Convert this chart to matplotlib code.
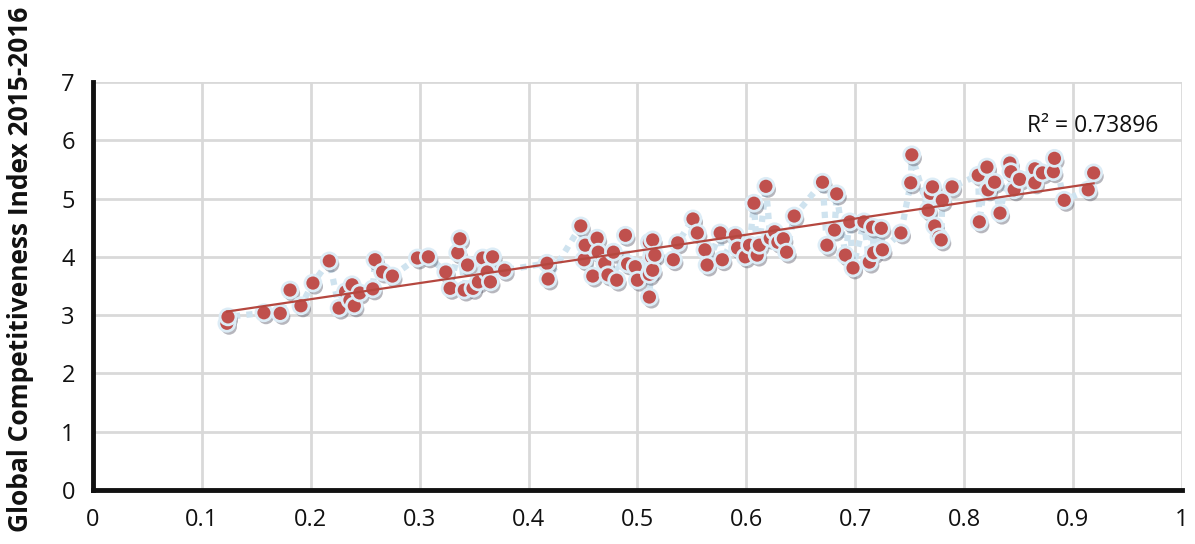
import numpy as np
import matplotlib
matplotlib.use("Agg")
import matplotlib.pyplot as plt
import matplotlib.patheffects as pe

# values (x, GCI score)
x_vals = [0.123, 0.124, 0.157, 0.172, 0.181, 0.191, 0.202, 0.217, 0.226, 0.232,
          0.236, 0.238, 0.240, 0.245, 0.257, 0.259, 0.266, 0.275, 0.298, 0.308,
          0.324, 0.328, 0.335, 0.337, 0.341, 0.344, 0.349, 0.354, 0.358, 0.362,
          0.365, 0.367, 0.378, 0.417, 0.418, 0.448, 0.451, 0.452, 0.459, 0.463,
          0.464, 0.470, 0.473, 0.478, 0.481, 0.489, 0.491, 0.498, 0.500, 0.511,
          0.511, 0.511, 0.513, 0.514, 0.514, 0.516, 0.533, 0.537, 0.551, 0.555,
          0.562, 0.564, 0.576, 0.578, 0.590, 0.592, 0.599, 0.603, 0.607, 0.610,
          0.612, 0.618, 0.622, 0.626, 0.629, 0.634, 0.637, 0.644, 0.670, 0.674,
          0.681, 0.683, 0.691, 0.695, 0.698, 0.708, 0.713, 0.716, 0.717, 0.724,
          0.725, 0.742, 0.751, 0.752, 0.767, 0.769, 0.771, 0.773, 0.777, 0.779,
          0.780, 0.789, 0.813, 0.814, 0.821, 0.822, 0.828, 0.833, 0.842, 0.843,
          0.846, 0.851, 0.865, 0.865, 0.872, 0.882, 0.883, 0.892, 0.914, 0.919]
y_vals = [2.86, 2.97, 3.04, 3.03, 3.43, 3.16, 3.55, 3.93, 3.12, 3.40,
          3.26, 3.52, 3.16, 3.38, 3.45, 3.95, 3.74, 3.67, 3.98, 4.00,
          3.74, 3.46, 4.07, 4.31, 3.43, 3.86, 3.46, 3.57, 3.98, 3.74,
          3.57, 4.00, 3.77, 3.89, 3.62, 4.53, 3.95, 4.20, 3.67, 4.32,
          4.08, 3.89, 3.69, 4.08, 3.60, 4.37, 3.88, 3.83, 3.60, 4.25,
          3.70, 3.31, 4.00, 4.29, 3.77, 4.03, 3.95, 4.24, 4.65, 4.41,
          4.12, 3.86, 4.41, 3.95, 4.37, 4.15, 4.00, 4.20, 4.92, 4.03,
          4.20, 5.21, 4.32, 4.43, 4.25, 4.31, 4.08, 4.70, 5.28, 4.20,
          4.46, 5.08, 4.03, 4.60, 3.81, 4.60, 3.91, 4.51, 4.07, 4.49,
          4.12, 4.41, 5.27, 5.75, 4.80, 5.09, 5.20, 4.53, 4.34, 4.29,
          4.97, 5.20, 5.40, 4.60, 5.54, 5.15, 5.28, 4.75, 5.61, 5.46,
          5.15, 5.33, 5.51, 5.27, 5.44, 5.46, 5.69, 4.97, 5.15, 5.44]
r2_label = "R² = 0.73896"
y_title = "Global Competitiveness Index 2015-2016"

x = np.array(x_vals)
y = np.array(y_vals)

plt.rcParams['font.family'] = ['Open Sans', 'DejaVu Sans']

fig = plt.figure(figsize=(11.95, 5.44), dpi=100)
ax = fig.add_axes([0.0778, 0.0993, 0.9112, 0.7500])

# connecting dotted line
ax.plot(x, y, linestyle=(0, (1, 1.0)), color='#cfe3ef', linewidth=4.5, zorder=2)

# trend line
k, b = np.polyfit(x, y, 1)
xt = np.array([x.min(), x.max()])
ax.plot(xt, k * xt + b, color='#b5473f', linewidth=1.6, zorder=4)

# markers with shadow
ax.plot(x, y, linestyle='none', marker='o', markersize=11.5,
        markerfacecolor='#c0504d', markeredgecolor='#dcecf6', markeredgewidth=2.0,
        zorder=3,
        path_effects=[pe.SimplePatchShadow(offset=(1.5, -2.5), shadow_rgbFace='#4a4a5a', alpha=0.4),
                      pe.Normal()])

ax.text(0.978, 6.24, r2_label, ha='right', va='center', fontsize=16.5, color='#111111')

ax.set_xlim(0, 1)
ax.set_ylim(0, 7)
ax.set_xticks(np.arange(0, 1.01, 0.1))
ax.set_xticklabels(['0', '0.1', '0.2', '0.3', '0.4', '0.5', '0.6', '0.7', '0.8', '0.9', '1'])
ax.set_yticks(range(8))
ax.grid(True, color='#d9d9d9', linewidth=2)
ax.set_axisbelow(True)
for s in ['top', 'right']:
    ax.spines[s].set_visible(False)
for s in ['left', 'bottom']:
    ax.spines[s].set_linewidth(3.5)
    ax.spines[s].set_color('#111111')
ax.tick_params(length=0, labelsize=17, pad=13, colors='#111111')

fig.text(0.017, 0.505, y_title, rotation=90, ha='center', va='center',
         fontsize=19, fontweight='bold', color='#111111')

fig.savefig('out.png', dpi=100)
